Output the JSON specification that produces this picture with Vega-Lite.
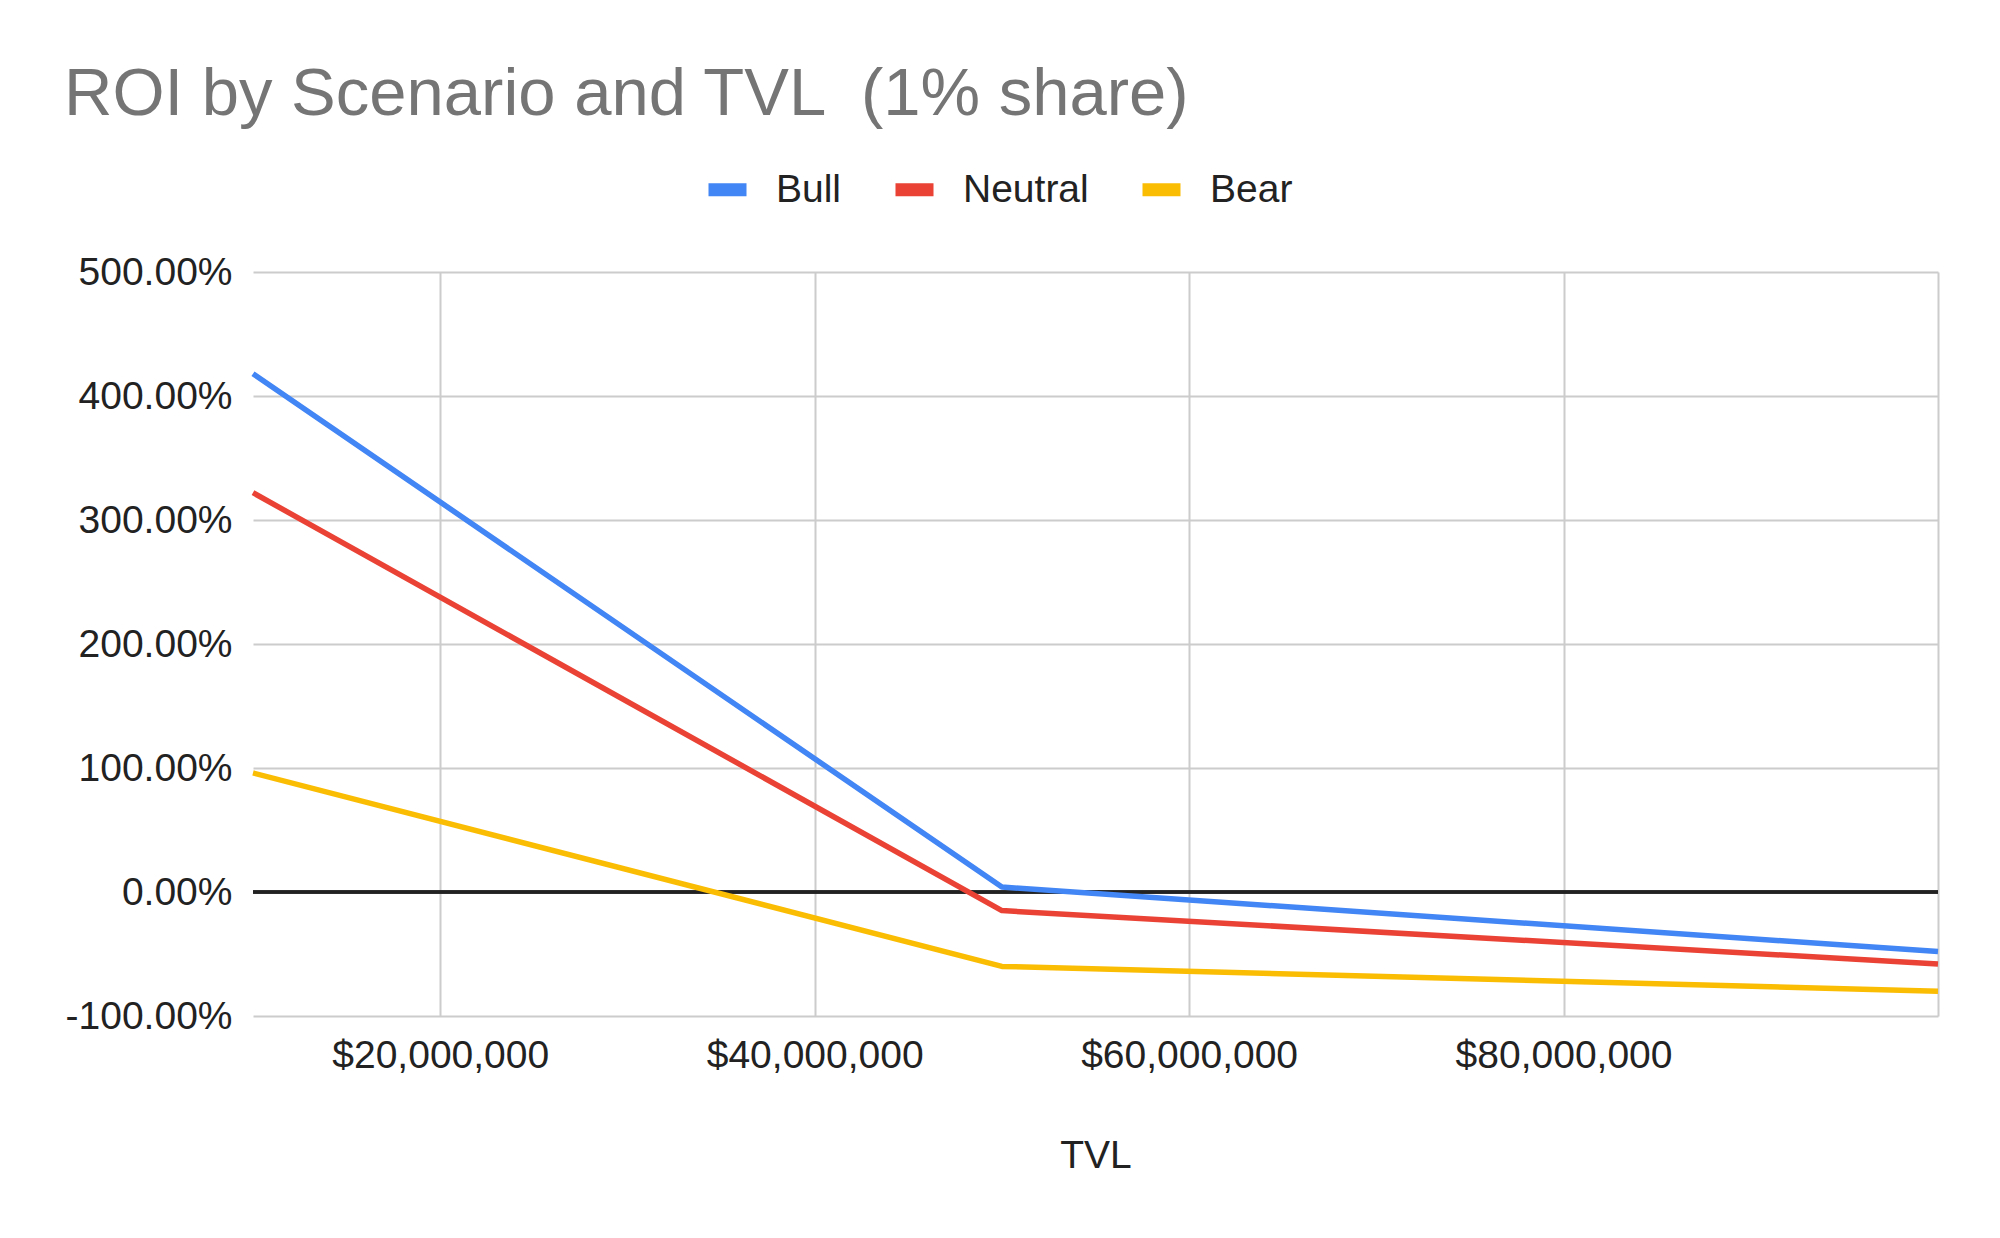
{
  "$schema": "https://vega.github.io/schema/vega-lite/v6.json",
  "width": 1685,
  "height": 744,
  "autosize": {"type": "none"},
  "padding": {"left": 253, "top": 272, "right": 62, "bottom": 222},
  "background": "white",
  "title": {
    "text": "ROI by Scenario and TVL \u00a0(1% share)",
    "anchor": "start",
    "frame": "group",
    "dx": -189,
    "fontSize": 67,
    "font": "Liberation Sans",
    "fontWeight": "normal",
    "color": "#757575",
    "offset": 35
  },
  "data": {
    "values": [
      {"TVL": 10000000, "Scenario": "Bull", "ROI": 4.18},
      {"TVL": 50000000, "Scenario": "Bull", "ROI": 0.04},
      {"TVL": 100000000, "Scenario": "Bull", "ROI": -0.48},
      {"TVL": 10000000, "Scenario": "Neutral", "ROI": 3.22},
      {"TVL": 50000000, "Scenario": "Neutral", "ROI": -0.15},
      {"TVL": 100000000, "Scenario": "Neutral", "ROI": -0.58},
      {"TVL": 10000000, "Scenario": "Bear", "ROI": 0.96},
      {"TVL": 50000000, "Scenario": "Bear", "ROI": -0.60},
      {"TVL": 100000000, "Scenario": "Bear", "ROI": -0.80}
    ]
  },
  "layer": [
    {
      "mark": {"type": "line", "strokeWidth": 5.5, "strokeJoin": "round", "opacity": 0},
      "encoding": {
        "x": {
          "field": "TVL",
          "type": "quantitative",
          "scale": {"domain": [10000000, 100000000], "nice": false, "zero": false},
          "axis": {
            "title": "TVL",
            "grid": true,
            "values": [20000000, 40000000, 60000000, 80000000, 100000000],
            "labelExpr": "datum.value >= 100000000 ? '' : format(datum.value, '$,.0f')",
            "labelPadding": 20,
            "labelLimit": 0,
            "titlePadding": 61
          }
        },
        "y": {
          "field": "ROI",
          "type": "quantitative",
          "scale": {"domain": [-1, 5], "nice": false},
          "axis": {
            "title": null,
            "grid": true,
            "values": [-1, 0, 1, 2, 3, 4, 5],
            "labelExpr": "replace(format(datum.value, '.2%'), '\u2212', '-')",
            "labelPadding": 21,
            "labelLimit": 0
          }
        },
        "color": {
          "field": "Scenario",
          "type": "nominal",
          "sort": ["Bull", "Neutral", "Bear"],
          "scale": {"domain": ["Bull", "Neutral", "Bear"], "range": ["#4285F4", "#EA4335", "#FBBC04"]},
          "legend": {
            "title": null,
            "orient": "none",
            "direction": "horizontal",
            "legendX": 449,
            "legendY": -108,
            "symbolType": "stroke",
            "symbolSize": 1444,
            "symbolStrokeWidth": 13,
            "symbolOpacity": 1,
            "labelFontSize": 39,
            "labelFont": "Liberation Sans",
            "labelColor": "#222222",
            "labelOffset": 23,
            "columnPadding": 27
          }
        }
      }
    },
    {
      "mark": {"type": "rule", "color": "#222222", "strokeWidth": 2.5},
      "encoding": {"y": {"datum": 0, "type": "quantitative"}}
    },
    {
      "mark": {"type": "line", "strokeWidth": 5.5, "strokeJoin": "round"},
      "encoding": {
        "x": {"field": "TVL", "type": "quantitative"},
        "y": {"field": "ROI", "type": "quantitative"},
        "color": {"field": "Scenario", "type": "nominal", "sort": ["Bull", "Neutral", "Bear"]}
      }
    }
  ],
  "config": {
    "view": {"stroke": null},
    "axis": {
      "labelFont": "Liberation Sans",
      "labelFontSize": 39,
      "labelColor": "#222222",
      "titleFont": "Liberation Sans",
      "titleFontSize": 39,
      "titleFontWeight": "normal",
      "titleColor": "#222222",
      "gridColor": "#cccccc",
      "gridWidth": 2,
      "domain": false,
      "ticks": false
    }
  }
}
